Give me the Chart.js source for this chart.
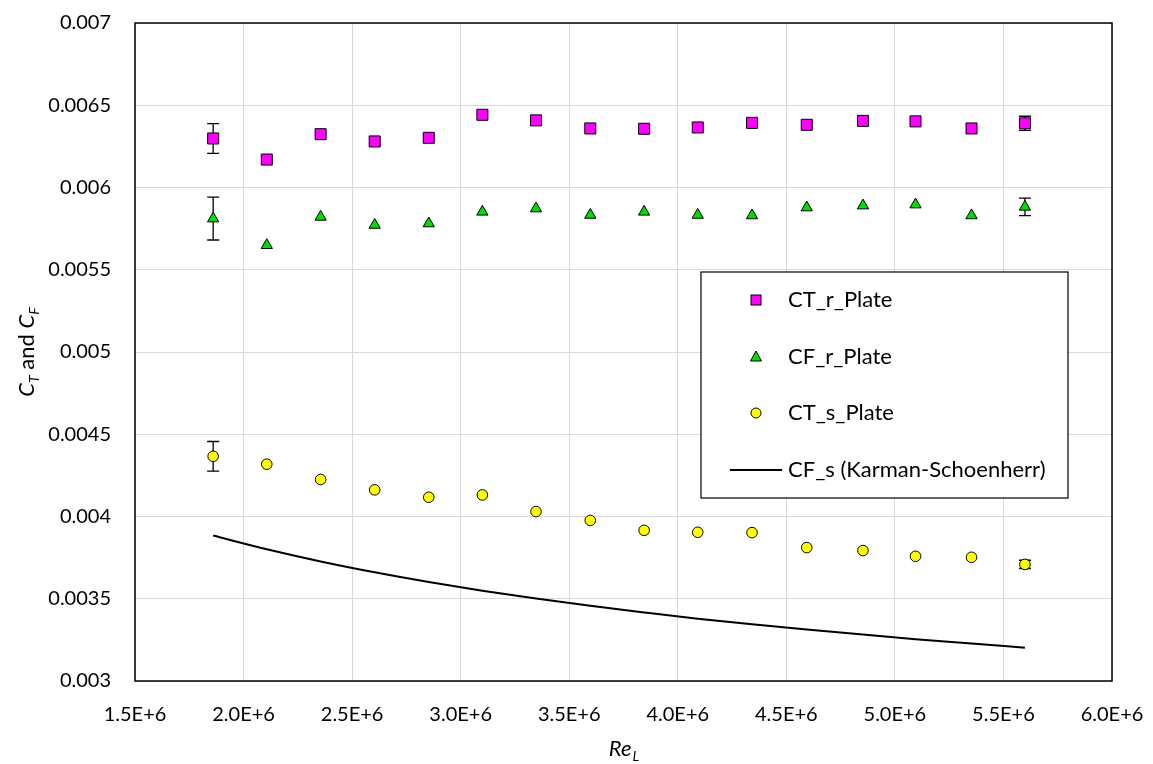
<!DOCTYPE html>
<html>
<head>
    <title>CT and CF vs ReL</title>
    <script src="https://cdn.jsdelivr.net/npm/chart.js@4.4.1/dist/chart.umd.min.js"></script>
    <style>
        body { margin: 0; background: #fff; }
        #wrap { width: 1153px; height: 764px; }
    </style>
</head>
<body>
<div id="wrap"><canvas id="myChart" width="1153" height="764"></canvas></div>

<script>
// Reynolds numbers of the test runs
var reL = [1.86e6, 2.107e6, 2.355e6, 2.604e6, 2.853e6, 3.10e6, 3.347e6, 3.597e6,
           3.845e6, 4.092e6, 4.342e6, 4.594e6, 4.853e6, 5.095e6, 5.353e6, 5.599e6];

var ctR = [0.006298, 0.006170, 0.006324, 0.006280, 0.006302, 0.006442, 0.006408, 0.006359,
           0.006357, 0.006365, 0.006393, 0.006381, 0.006405, 0.006402, 0.006359, 0.006390];
var cfR = [0.005811, 0.005649, 0.005821, 0.005772, 0.005781, 0.005852, 0.005872, 0.005833,
           0.005852, 0.005833, 0.005830, 0.005878, 0.005890, 0.005896, 0.005830, 0.005882];
var ctS = [0.004366, 0.004318, 0.004225, 0.004162, 0.004117, 0.004131, 0.004030, 0.003976,
           0.003916, 0.003904, 0.003902, 0.003811, 0.003793, 0.003758, 0.003752, 0.003709];
// Karman-Schoenherr line
var cfS = [0.003884, 0.003801, 0.003727, 0.003661, 0.003602, 0.003549, 0.003501, 0.003457,
           0.003417, 0.003379, 0.003345, 0.003313, 0.003282, 0.003254, 0.003228, 0.003202];

// error bars (only first and last runs)
var ctRErr = [0.00009, null, null, null, null, null, null, null, null, null, null, null, null, null, null, 0.000043];
var cfRErr = [0.00013, null, null, null, null, null, null, null, null, null, null, null, null, null, null, 0.000053];
var ctSErr = [0.00009, null, null, null, null, null, null, null, null, null, null, null, null, null, null, 0.000025];

var xTicks = [1.5e6, 2.0e6, 2.5e6, 3.0e6, 3.5e6, 4.0e6, 4.5e6, 5.0e6, 5.5e6, 6.0e6];
var yTicks = [0.003, 0.0035, 0.004, 0.0045, 0.005, 0.0055, 0.006, 0.0065, 0.007];

var seriesNames = ['CT_r_Plate', 'CF_r_Plate', 'CT_s_Plate', 'CF_s (Karman-Schoenherr)'];

var FONT = 'Lato, "Open Sans", sans-serif';

function pts(ys) {
    return reL.map(function (x, i) { return { x: x, y: ys[i] }; });
}

// error bars, drawn under the markers
var errorBars = {
    id: 'errorBars',
    beforeDatasetsDraw: function (chart) {
        var ctx = chart.ctx;
        var xs = chart.scales.x, ys = chart.scales.y;
        var sets = [[ctR, ctRErr], [cfR, cfRErr], [ctS, ctSErr]];
        ctx.save();
        ctx.strokeStyle = '#000';
        ctx.lineWidth = 1.3;
        sets.forEach(function (s) {
            s[1].forEach(function (e, i) {
                if (e == null) return;
                var px = xs.getPixelForValue(reL[i]);
                var top = ys.getPixelForValue(s[0][i] + e);
                var bot = ys.getPixelForValue(s[0][i] - e);
                ctx.beginPath();
                ctx.moveTo(px, top); ctx.lineTo(px, bot);
                ctx.moveTo(px - 6, top); ctx.lineTo(px + 6, top);
                ctx.moveTo(px - 6, bot); ctx.lineTo(px + 6, bot);
                ctx.stroke();
            });
        });
        ctx.restore();
    }
};

// frame, legend box and axis titles with subscripts
var decorations = {
    id: 'decorations',
    afterDraw: function (chart) {
        var ctx = chart.ctx;
        var a = chart.chartArea;
        ctx.save();
        ctx.strokeStyle = '#000';
        ctx.lineWidth = 1.5;
        ctx.strokeRect(a.left, a.top, a.right - a.left, a.bottom - a.top);

        // legend
        var lx = 701, ly = 272, lw = 367, lh = 226;
        ctx.fillStyle = '#fff';
        ctx.fillRect(lx, ly, lw, lh);
        ctx.lineWidth = 1.2;
        ctx.strokeRect(lx, ly, lw, lh);
        var rows = [300, 357, 413, 470];
        var mx = 756;
        ctx.lineWidth = 1;
        ctx.strokeStyle = '#000';
        // square
        ctx.fillStyle = '#FF00FF';
        ctx.fillRect(mx - 5, rows[0] - 5, 10, 10);
        ctx.strokeRect(mx - 5, rows[0] - 5, 10, 10);
        // triangle
        ctx.fillStyle = '#00DD00';
        ctx.beginPath();
        ctx.moveTo(mx, rows[1] - 6);
        ctx.lineTo(mx + 5.5, rows[1] + 4);
        ctx.lineTo(mx - 5.5, rows[1] + 4);
        ctx.closePath();
        ctx.fill(); ctx.stroke();
        // circle
        ctx.fillStyle = '#FFFF00';
        ctx.beginPath();
        ctx.arc(mx, rows[2], 5, 0, Math.PI * 2);
        ctx.fill(); ctx.stroke();
        // line
        ctx.lineWidth = 2;
        ctx.beginPath();
        ctx.moveTo(730, rows[3]); ctx.lineTo(782, rows[3]);
        ctx.stroke();

        ctx.fillStyle = '#000';
        ctx.font = '22px ' + FONT;
        ctx.textBaseline = 'middle';
        ctx.textAlign = 'left';
        seriesNames.forEach(function (n, i) { ctx.fillText(n, 788, rows[i]); });

        // x title: Re_L
        var cx = (a.left + a.right) / 2;
        ctx.font = 'italic 22px ' + FONT;
        var w1 = ctx.measureText('Re').width;
        ctx.font = 'italic 14px ' + FONT;
        var w2 = ctx.measureText('L').width;
        var sx = cx - (w1 + w2) / 2;
        ctx.textBaseline = 'alphabetic';
        ctx.font = 'italic 22px ' + FONT;
        ctx.fillText('Re', sx, 756);
        ctx.font = 'italic 14px ' + FONT;
        ctx.fillText('L', sx + w1 + 1, 761);

        // y title: C_T and C_F (rotated)
        ctx.translate(34, (a.top + a.bottom) / 2);
        ctx.rotate(-Math.PI / 2);
        var parts = [
            ['C', 'italic 22px ', 0],
            ['T', 'italic 14px ', 5],
            [' and ', '22px ', 0],
            ['C', 'italic 22px ', 0],
            ['F', 'italic 14px ', 5]
        ];
        var total = 0;
        parts.forEach(function (p) { ctx.font = p[1] + FONT; p.push(ctx.measureText(p[0]).width); total += p[3]; });
        var px = -total / 2;
        parts.forEach(function (p) {
            ctx.font = p[1] + FONT;
            ctx.fillText(p[0], px, p[2]);
            px += p[3];
        });
        ctx.restore();
    }
};

var ctx = document.getElementById('myChart').getContext('2d');
var myChart = new Chart(ctx, {
    type: 'scatter',
    data: {
        datasets: [{
            label: seriesNames[0],
            data: pts(ctR),
            pointStyle: 'rect',
            pointRadius: 7.8,
            backgroundColor: '#FF00FF',
            borderColor: '#000',
            borderWidth: 1
        }, {
            label: seriesNames[1],
            data: pts(cfR),
            pointStyle: 'triangle',
            pointRadius: 6.5,
            backgroundColor: '#00DD00',
            borderColor: '#000',
            borderWidth: 1
        }, {
            label: seriesNames[2],
            data: pts(ctS),
            pointStyle: 'circle',
            pointRadius: 5.3,
            backgroundColor: '#FFFF00',
            borderColor: '#000',
            borderWidth: 1
        }, {
            label: seriesNames[3],
            data: pts(cfS),
            showLine: true,
            pointRadius: 0,
            borderColor: '#000',
            borderWidth: 2,
            cubicInterpolationMode: 'monotone'
        }]
    },
    options: {
        responsive: false,
        animation: false,
        events: [],
        layout: { padding: { top: 23, right: 41, left: 0, bottom: 0 } },
        plugins: {
            legend: { display: false },
            tooltip: { enabled: false }
        },
        scales: {
            x: {
                type: 'linear',
                min: 1.5e6,
                max: 6.0e6,
                afterBuildTicks: function (s) { s.ticks = xTicks.map(function (v) { return { value: v }; }); },
                afterFit: function (s) {
                    s.height = 83;
                    s.paddingLeft = 0; s.paddingRight = 0; s.paddingTop = 0; s.paddingBottom = 0;
                },
                grid: { color: '#D9D9D9', lineWidth: 1, drawTicks: false },
                border: { display: false },
                ticks: {
                    padding: 22,
                    maxRotation: 0,
                    color: '#000',
                    font: { family: FONT, size: 20 },
                    callback: function (v) { return (v / 1e6).toFixed(1) + 'E+6'; }
                }
            },
            y: {
                type: 'linear',
                min: 0.003,
                max: 0.007,
                afterBuildTicks: function (s) { s.ticks = yTicks.map(function (v) { return { value: v }; }); },
                afterFit: function (s) {
                    s.width = 135;
                    s.paddingLeft = 0; s.paddingRight = 0; s.paddingTop = 0; s.paddingBottom = 0;
                },
                grid: { color: '#D9D9D9', lineWidth: 1, drawTicks: false },
                border: { display: false },
                ticks: {
                    padding: 24,
                    color: '#000',
                    font: { family: FONT, size: 20 },
                    callback: function (v) { return String(Number(v.toFixed(4))); }
                }
            }
        }
    },
    plugins: [errorBars, decorations]
});
</script>
</body>
</html>
